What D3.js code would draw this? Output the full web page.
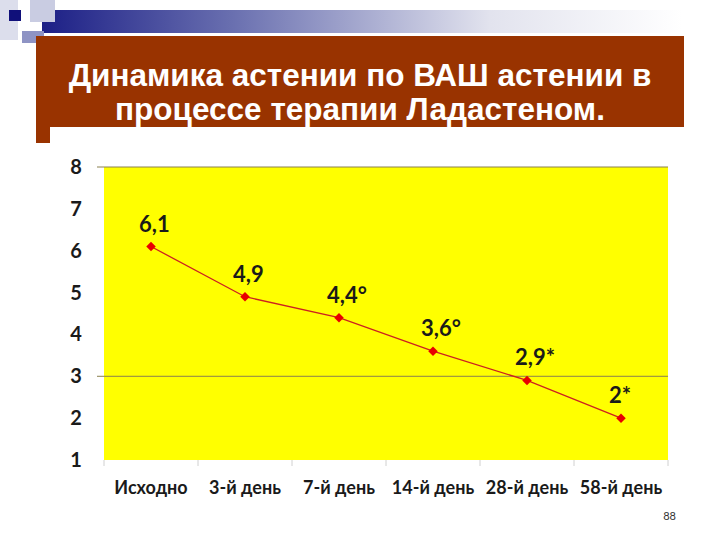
<!DOCTYPE html>
<html><head><meta charset="utf-8">
<script src="https://cdn.jsdelivr.net/npm/d3@7"></script>
<style>body{margin:0;background:#fff}svg{display:block}</style>
</head><body>
<script>
const categories = ["Исходно","3-й день","7-й день","14-й день","28-й день","58-й день"];
const values = [6.1, 4.9, 4.4, 3.6, 2.9, 2.0];
const valueLabels = ["6,1","4,9","4,4°","3,6°","2,9*","2*"];
const yTicks = [1,2,3,4,5,6,7,8];
const gridValues = [8,3];
const titleLines = ["Динамика астении по ВАШ астении в","процессе терапии Ладастеном."];
const pageNumber = "88";

const W=720,H=540;
const svg=d3.select("body").append("svg").attr("width",W).attr("height",H);
const defs=svg.append("defs");
const grad=defs.append("linearGradient").attr("id","g1").attr("x1","0").attr("x2","1");
grad.append("stop").attr("offset","0").attr("stop-color","#1c1f86");
grad.append("stop").attr("offset","0.3").attr("stop-color","#6a70b0");
grad.append("stop").attr("offset","0.7").attr("stop-color","#e2e3ee");
grad.append("stop").attr("offset","1").attr("stop-color","#ffffff");

// decoration
svg.append("rect").attr("x",42).attr("y",10).attr("width",640).attr("height",23).attr("fill","url(#g1)");
svg.append("rect").attr("x",0).attr("y",0).attr("width",18).attr("height",40).attr("fill","#dcdeec");
svg.append("rect").attr("x",30).attr("y",0).attr("width",25).attr("height",22).attr("fill","#c9cce2");
svg.append("rect").attr("x",22).attr("y",31).attr("width",22).attr("height",12).attr("fill","#8e93c4");
svg.append("rect").attr("x",9).attr("y",10).attr("width",12).attr("height",11).attr("fill","#10107a");

// title box
svg.append("rect").attr("x",36).attr("y",36).attr("width",648).attr("height",91).attr("fill","#993300");
svg.append("rect").attr("x",36).attr("y",120).attr("width",14).attr("height",23).attr("fill","#993300");
svg.append("g").selectAll("text").data(titleLines).join("text")
  .attr("x",360).attr("y",(d,i)=>86+i*34).attr("text-anchor","middle")
  .attr("fill","#fff").attr("font-family","Liberation Sans, Arial, sans-serif")
  .attr("font-weight","bold").attr("font-size",31.5).text(d=>d);

// chart
const x=d3.scaleBand().domain(categories).range([104,668]);
const y=d3.scaleLinear().domain([1,8]).range([460,167]);

svg.append("rect").attr("x",104).attr("y",y(8)).attr("width",564).attr("height",y(1)-y(8)).attr("fill","#ffff00");
svg.append("g").selectAll("line").data(gridValues).join("line")
  .attr("x1",97).attr("x2",668).attr("y1",d=>y(d)).attr("y2",d=>y(d))
  .attr("stroke","#8a8050").attr("stroke-width",1);

// x ticks at boundaries
const bounds=categories.map(c=>x(c)).concat([x.range()[1]]);
svg.append("g").selectAll("line").data(bounds).join("line")
  .attr("x1",d=>d).attr("x2",d=>d).attr("y1",460).attr("y2",466)
  .attr("stroke","#d0d0d0").attr("stroke-width",1);

const font="Lato, Carlito, Calibri, sans-serif";
svg.append("g").selectAll("text").data(yTicks).join("text")
  .attr("x",76).attr("y",d=>y(d)+7).attr("text-anchor","middle")
  .attr("font-family",font).attr("font-weight","bold").attr("font-size",20).attr("fill","#1a1a1a")
  .text(d=>d);

svg.append("g").selectAll("text").data(categories).join("text")
  .attr("x",d=>x(d)+x.bandwidth()/2).attr("y",494).attr("text-anchor","middle")
  .attr("font-family",font).attr("font-weight","bold").attr("font-size",18).attr("fill","#1a1a1a")
  .text(d=>d);

const cx=(d,i)=>x(categories[i])+x.bandwidth()/2;
const line=d3.line().x((d,i)=>cx(d,i)).y(d=>y(d));
svg.append("path").datum(values).attr("d",line).attr("fill","none").attr("stroke","#cc2020").attr("stroke-width",1.3);
svg.append("g").selectAll("path").data(values).join("path")
  .attr("d",d3.symbol().type(d3.symbolSquare).size(45))
  .attr("transform",(d,i)=>`translate(${cx(d,i)},${y(d)}) rotate(45)`)
  .attr("fill","#e80000");

svg.append("g").selectAll("text").data(values).join("text")
  .attr("x",(d,i)=>cx(d,i)-12).attr("y",d=>y(d)-15)
  .attr("font-family",font).attr("font-weight","bold").attr("font-size",22).attr("fill","#1a1a1a")
  .text((d,i)=>valueLabels[i]);

svg.append("text").attr("x",676).attr("y",520).attr("text-anchor","end")
  .attr("font-family",font).attr("font-size",11).attr("fill","#333").text(pageNumber);
</script>
</body></html>
